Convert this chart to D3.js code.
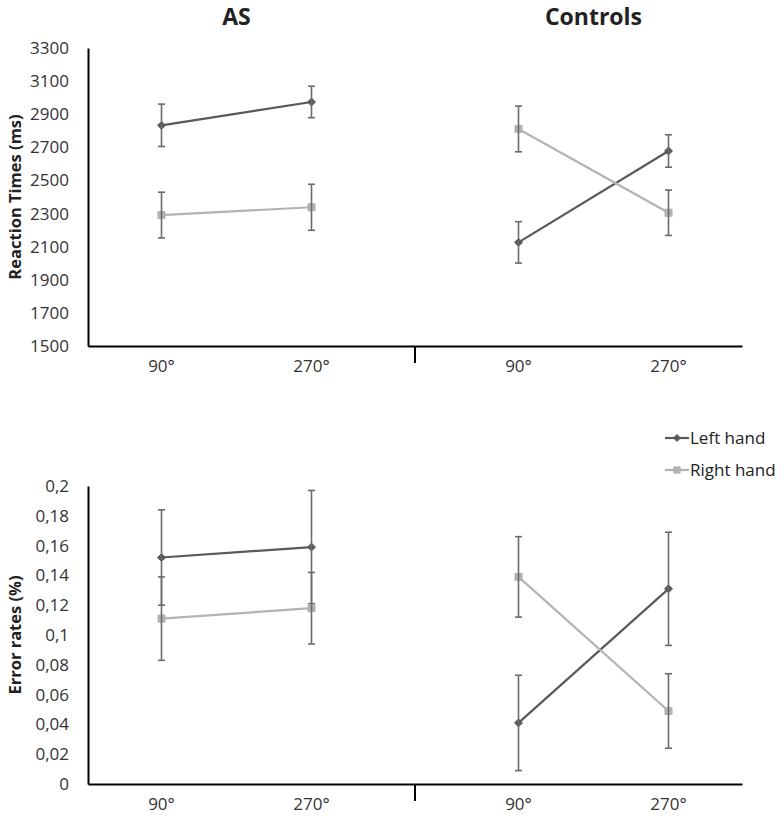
<!DOCTYPE html>
<head>
<title>Reaction times and error rates - AS vs Controls</title>
<style>
  body { margin: 0; background: #fff; }
  text { font-family: "Open Sans", sans-serif; fill: #222; }
  .title { font-weight: bold; font-size: 23px; }
  .ytitle { font-weight: bold; font-size: 16.5px; }
  .tick text { font-size: 17px; fill: #333; font-family: "Open Sans", sans-serif; }
  .xlab { font-size: 17px; fill: #333; }
  .legend text { font-size: 17px; fill: #222; }
</style>
</head>
<body>
<script src="https://cdn.jsdelivr.net/npm/d3@7/dist/d3.min.js"></script>
<script>

// groups / conditions
var groups = ["AS", "Controls"];
var angles = ["90°", "270°"];
var seriesNames = ["Left hand", "Right hand"];

// values in order AS 90, AS 270, Controls 90, Controls 270
var leftRT = [2833, 2974, 2126, 2678];
var leftRTse = [128, 95, 125, 98];
var rightRT = [2291, 2338, 2811, 2305];
var rightRTse = [138, 139, 138, 137];

var leftER = [0.152, 0.159, 0.041, 0.131];
var leftERse = [0.032, 0.038, 0.032, 0.038];
var rightER = [0.111, 0.118, 0.139, 0.049];
var rightERse = [0.028, 0.024, 0.027, 0.025];

// tick values / labels
var rtTicks = [1500, 1700, 1900, 2100, 2300, 2500, 2700, 2900, 3100, 3300];
var erTicks = [0, 0.02, 0.04, 0.06, 0.08, 0.1, 0.12, 0.14, 0.16, 0.18, 0.2];
var erTickLabels = ["0", "0,02", "0,04", "0,06", "0,08", "0,1", "0,12", "0,14", "0,16", "0,18", "0,2"];

var colors = { "Left hand": "#595959", "Right hand": "#b3b3b3" };
var errColor = "#6b6b6b";

var width = 784, height = 827;
var svg = d3.select("body").append("svg")
    .attr("width", width)
    .attr("height", height);

// x layout: two group bands, angles inside each band
var xGroup = d3.scaleBand().domain(groups).range([88, 742]);
var groupShift = [-15, 15];
var xAngle = d3.scalePoint().domain(angles).range([0, xGroup.bandwidth()]).padding(0.59);

function xPos(gi, ai) {
  return xGroup(groups[gi]) + groupShift[gi] + xAngle(angles[ai]);
}

// flatten arrays into points
function makePoints(vals, errs) {
  var pts = [];
  groups.forEach(function(g, gi) {
    angles.forEach(function(a, ai) {
      var k = gi * 2 + ai;
      pts.push({ gi: gi, ai: ai, v: vals[k], e: errs[k] });
    });
  });
  return pts;
}

function drawPanel(cfg) {
  var y = d3.scaleLinear().domain(cfg.domain).range(cfg.range);
  var g = svg.append("g");

  // y axis
  var yAxis = g.append("g")
    .attr("transform", "translate(" + xGroup.range()[0] + ",0)")
    .call(d3.axisLeft(y).tickValues(cfg.ticks).tickSize(0).tickSizeOuter(0).tickPadding(19)
      .tickFormat(function(d, i) { return cfg.labels[i]; }));
  yAxis.select(".domain").attr("stroke", "#000").attr("stroke-width", 2);

  // x axis line
  var xAxis = g.append("g")
    .attr("transform", "translate(0," + cfg.range[0] + ")")
    .call(d3.axisBottom(xGroup).tickValues([]).tickSizeOuter(0));
  xAxis.select(".domain").attr("stroke", "#000").attr("stroke-width", 2);

  // group separator tick
  g.append("line")
    .attr("x1", xGroup(groups[1])).attr("x2", xGroup(groups[1]))
    .attr("y1", cfg.range[0]).attr("y2", cfg.range[0] + 17)
    .attr("stroke", "#000").attr("stroke-width", 2);

  // x labels
  groups.forEach(function(grp, gi) {
    angles.forEach(function(a, ai) {
      g.append("text").attr("class", "xlab")
        .attr("x", xPos(gi, ai))
        .attr("y", cfg.range[0] + 26)
        .attr("text-anchor", "middle")
        .text(a);
    });
  });

  // y title
  g.append("text").attr("class", "ytitle")
    .attr("transform", "translate(15," + ((cfg.range[0] + cfg.range[1]) / 2) + ") rotate(-90)")
    .attr("text-anchor", "middle")
    .attr("dy", "0.35em")
    .text(cfg.title);

  var line = d3.line().x(function(d) { return xPos(d.gi, d.ai); }).y(function(d) { return y(d.v); });

  cfg.series.forEach(function(s) {
    var col = colors[s.name];
    groups.forEach(function(grp, gi) {
      var pts = s.points.filter(function(p) { return p.gi == gi; });
      g.append("path").datum(pts)
        .attr("fill", "none")
        .attr("stroke", col)
        .attr("stroke-width", 2.2)
        .attr("d", line);
    });

    // markers
    g.selectAll(null).data(s.points).enter().append("path")
      .attr("transform", function(d) { return "translate(" + xPos(d.gi, d.ai) + "," + y(d.v) + ")"; })
      .attr("d", d3.symbol().type(s.name == "Left hand" ? d3.symbolDiamond2 : d3.symbolSquare2)
        .size(s.name == "Left hand" ? 40 : 64))
      .attr("fill", col)
      .attr("stroke", col);

    // error bars
    var eb = g.selectAll(null).data(s.points).enter().append("g")
      .attr("stroke", errColor).attr("stroke-width", 1.6);
    eb.append("line")
      .attr("x1", function(d) { return xPos(d.gi, d.ai); })
      .attr("x2", function(d) { return xPos(d.gi, d.ai); })
      .attr("y1", function(d) { return y(d.v + d.e); })
      .attr("y2", function(d) { return y(d.v - d.e); });
    [1, -1].forEach(function(sign) {
      eb.append("line")
        .attr("x1", function(d) { return xPos(d.gi, d.ai) - 3.5; })
        .attr("x2", function(d) { return xPos(d.gi, d.ai) + 3.5; })
        .attr("y1", function(d) { return y(d.v + sign * d.e); })
        .attr("y2", function(d) { return y(d.v + sign * d.e); });
    });
  });
}

// reaction time panel
drawPanel({
  domain: [1500, 3300], range: [346, 48],
  ticks: rtTicks, labels: rtTicks.map(String),
  title: "Reaction Times (ms)",
  series: [
    { name: seriesNames[0], points: makePoints(leftRT, leftRTse) },
    { name: seriesNames[1], points: makePoints(rightRT, rightRTse) }
  ]
});

// error rate panel
drawPanel({
  domain: [0, 0.2], range: [784, 486],
  ticks: erTicks, labels: erTickLabels,
  title: "Error rates (%)",
  series: [
    { name: seriesNames[0], points: makePoints(leftER, leftERse) },
    { name: seriesNames[1], points: makePoints(rightER, rightERse) }
  ]
});

// group titles
groups.forEach(function(grp, gi) {
  svg.append("text").attr("class", "title")
    .attr("x", xGroup(grp) + groupShift[gi] + xGroup.bandwidth() / 2)
    .attr("y", 25)
    .attr("text-anchor", "middle")
    .text(grp);
});

// legend
var legend = svg.append("g").attr("class", "legend");
seriesNames.forEach(function(s, i) {
  var ly = 438 + i * 32;
  var lg = legend.append("g").attr("transform", "translate(665," + ly + ")");
  lg.append("line").attr("x1", 0).attr("x2", 24).attr("y1", 0).attr("y2", 0)
    .attr("stroke", colors[s]).attr("stroke-width", 2.2);
  lg.append("path")
    .attr("transform", "translate(12,0)")
    .attr("d", d3.symbol().type(i == 0 ? d3.symbolDiamond2 : d3.symbolSquare2).size(i == 0 ? 30 : 50))
    .attr("fill", colors[s]).attr("stroke", colors[s]);
  lg.append("text").attr("x", 25).attr("dy", "0.35em").text(s);
});

</script>
</body>
